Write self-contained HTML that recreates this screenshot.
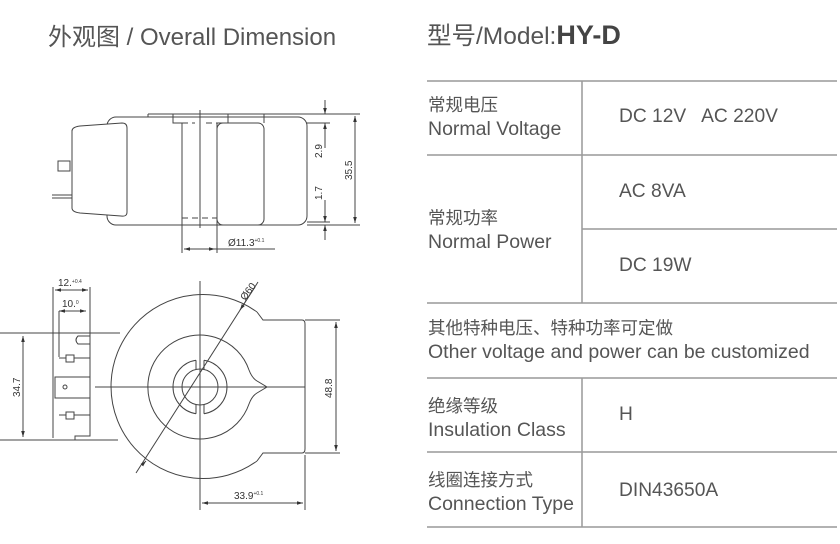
<!DOCTYPE html>
<html><head><meta charset="utf-8"><style>
html,body{margin:0;padding:0;background:#fff;}
body{width:840px;height:544px;overflow:hidden;position:relative;font-family:"Liberation Sans","Noto Sans CJK SC",sans-serif;color:#555;}
.t{position:absolute;white-space:nowrap;}
.c{font-size:17.5px;}
.e{font-size:19.5px;}
.v{position:absolute;white-space:nowrap;font-size:19.2px;}
</style></head><body>
<div class="t" style="left:48px;top:17px;font-size:24px;color:#555;">外观图 / Overall Dimension</div>
<div class="t" style="left:427px;top:17px;font-size:24.5px;color:#555;">型号/Model:<b style="color:#444;font-size:27px;">HY-D</b></div>

<svg width="840" height="544" style="position:absolute;left:0;top:0" xmlns="http://www.w3.org/2000/svg">
<defs><marker id="a" viewBox="0 0 10 10" refX="10" refY="5" markerWidth="6" markerHeight="6" orient="auto-start-reverse"><path d="M0,2 L10,5 L0,8z" fill="#333"/></marker></defs>
<g stroke="#444" stroke-width="1" fill="none">
<g stroke="#999" stroke-width="1.5">
<line x1="427" y1="81" x2="837" y2="81"/>
<line x1="427" y1="155" x2="837" y2="155"/>
<line x1="582" y1="229" x2="837" y2="229"/>
<line x1="427" y1="303" x2="837" y2="303"/>
<line x1="427" y1="378" x2="837" y2="378"/>
<line x1="427" y1="452" x2="837" y2="452"/>
<line x1="427" y1="527" x2="837" y2="527"/>
<line x1="582" y1="81" x2="582" y2="303"/>
<line x1="582" y1="378" x2="582" y2="527"/>
</g>
<!-- top view -->
<rect x="107" y="117" width="200" height="108" rx="9"/>
<path d="M72,131 Q72,127 80,126 L122,123 Q127,123 127,128 L127,212 Q127,217 121,216 L80,213 Q72,212 72,208 Z" fill="#fff"/>
<rect x="58" y="161" width="12" height="10"/>
<line x1="52" y1="195" x2="72" y2="195"/><line x1="52" y1="198" x2="72" y2="198"/>
<line x1="148" y1="114" x2="355" y2="114"/>
<line x1="148" y1="114" x2="148" y2="117"/>
<path d="M173,114 L173,123 L182,123 L182,225"/>
<path d="M228,114 L228,123 L217,123 L217,225"/>
<line x1="182" y1="123" x2="195" y2="123" stroke-dasharray="6,4"/>
<line x1="206" y1="123" x2="217" y2="123" stroke-dasharray="6,4"/>
<line x1="182" y1="218" x2="217" y2="218" stroke-dasharray="6,4"/>
<rect x="217" y="123" width="47" height="102" rx="6"/>
<line x1="264" y1="114" x2="264" y2="123"/>
<line x1="200" y1="110" x2="200" y2="228"/>
<line x1="307" y1="123" x2="330" y2="123"/>
<line x1="307" y1="222" x2="330" y2="222"/>
<line x1="307" y1="225" x2="360" y2="225"/>
<line x1="300" y1="114" x2="360" y2="114"/>
<line x1="325" y1="100" x2="325" y2="114" marker-end="url(#a)"/>
<line x1="325" y1="137" x2="325" y2="123" marker-end="url(#a)"/>
<line x1="325" y1="148" x2="325" y2="137"/>
<line x1="325" y1="200" x2="325" y2="222" marker-end="url(#a)"/>
<line x1="325" y1="240" x2="325" y2="225" marker-end="url(#a)"/>
<line x1="355" y1="116" x2="355" y2="223" marker-start="url(#a)" marker-end="url(#a)"/>
<line x1="182" y1="225" x2="182" y2="253"/><line x1="217" y1="225" x2="217" y2="253"/>
<line x1="184" y1="249" x2="215" y2="249" marker-start="url(#a)" marker-end="url(#a)"/>
<line x1="215" y1="249" x2="275" y2="249"/>
<!-- front view -->
<path d="M257,312 L263,320 L302,320 Q305,320 305,324 L305,449 Q305,453 302,453 L263,453 L257,461"/>
<path d="M257,312 A92,92 0 1 0 257,461"/>
<path d="M249,370 A52,52 0 1 0 249,404 Q252,396 257,393 L267,387 L257,381 Q252,378 249,370"/>
<path d="M204,360.3 A27,27 0 0 1 204,413.7 M196,413.7 A27,27 0 0 1 196,360.3"/>
<path d="M196,360.3 L196,370 M204,360.3 L204,370 M196,413.7 L196,404 M204,413.7 L204,404"/>
<circle cx="200" cy="387" r="18"/>
<line x1="200" y1="281" x2="200" y2="505"/>
<line x1="95" y1="387" x2="305" y2="387"/>
<line x1="136" y1="473" x2="258" y2="282"/>
<line x1="255" y1="287" x2="240" y2="310" marker-end="url(#a)"/>
<line x1="145" y1="462" x2="146" y2="461" marker-end="url(#a)"/>
<line x1="305" y1="320" x2="340" y2="320"/>
<line x1="305" y1="453" x2="340" y2="453"/>
<line x1="336" y1="322" x2="336" y2="451" marker-start="url(#a)" marker-end="url(#a)"/>
<line x1="305" y1="455" x2="305" y2="510"/>
<line x1="200" y1="505" x2="200" y2="510"/>
<line x1="202" y1="503" x2="303" y2="503" marker-start="url(#a)" marker-end="url(#a)"/>
<!-- side connector -->
<line x1="53" y1="287" x2="53" y2="438"/>
<path d="M90,287 L90,436 L75,436 L75,440"/>
<line x1="0" y1="333" x2="120" y2="333"/>
<line x1="0" y1="440" x2="118" y2="440"/>
<line x1="55" y1="290" x2="88" y2="290" marker-start="url(#a)" marker-end="url(#a)"/>
<line x1="59" y1="311" x2="86" y2="311" marker-start="url(#a)" marker-end="url(#a)"/>
<line x1="59" y1="311" x2="59" y2="357"/>
<path d="M90,336 L78,336 Q74,340 78,344 L90,344"/>
<path d="M59,358 L66,358 L66,355 L74,355 L74,362 L66,362 L66,358 M74,358 L90,358"/>
<rect x="55" y="377" width="35" height="21"/>
<circle cx="65" cy="387" r="2"/>
<path d="M59,415 L66,415 L66,412 L74,412 L74,419 L66,419 L66,415 M74,415 L90,415"/>
<line x1="23" y1="336" x2="23" y2="437" marker-start="url(#a)" marker-end="url(#a)"/>
</g>
<g fill="#333" font-family="Liberation Sans, sans-serif" font-size="10">
<text transform="translate(322,158) rotate(-90)">2.9</text>
<text transform="translate(322,200) rotate(-90)">1.7</text>
<text transform="translate(352,180) rotate(-90)">35.5</text>
<text x="228" y="246">Ø11.3<tspan font-size="5" dy="-4">+0.1</tspan></text>
<text transform="translate(20,397) rotate(-90)">34.7</text>
<text transform="translate(332,398) rotate(-90)">48.8</text>
<text x="234" y="499">33.9<tspan font-size="5" dy="-4">+0.1</tspan></text>
<text transform="translate(245,301) rotate(-53)">Ø60</text>
<text x="58" y="286">12.<tspan font-size="5" dy="-3">+0.4</tspan></text>
<text x="62" y="307">10.<tspan font-size="5" dy="-3">0</tspan></text>
</g>
</svg>

<div class="t" style="left:428px;top:94px;line-height:22px;"><span class="c">常规电压</span><br><span class="e">Normal Voltage</span></div>
<div class="v" style="left:619px;top:106px;">DC 12V&nbsp;&nbsp; AC 220V</div>
<div class="t" style="left:428px;top:207px;line-height:22px;"><span class="c">常规功率</span><br><span class="e">Normal Power</span></div>
<div class="v" style="left:619px;top:181px;">AC 8VA</div>
<div class="v" style="left:619px;top:255px;">DC 19W</div>
<div class="t" style="left:428px;top:317px;line-height:22px;"><span class="c">其他特种电压、特种功率可定做</span><br><span class="e">Other voltage and power can be customized</span></div>
<div class="t" style="left:428px;top:395px;line-height:22px;"><span class="c">绝缘等级</span><br><span class="e">Insulation Class</span></div>
<div class="v" style="left:619px;top:404px;">H</div>
<div class="t" style="left:428px;top:469px;line-height:22px;"><span class="c">线圈连接方式</span><br><span class="e">Connection Type</span></div>
<div class="v" style="left:619px;top:480px;">DIN43650A</div>
</body></html>
